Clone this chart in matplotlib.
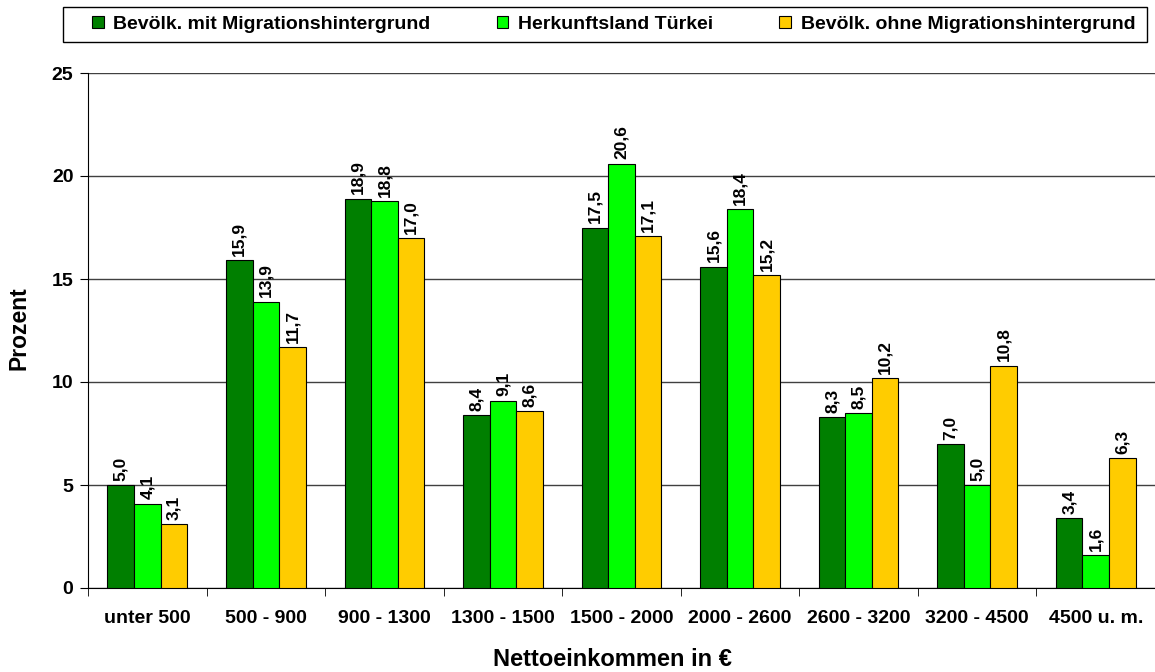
import matplotlib
matplotlib.use("Agg")
import matplotlib.pyplot as plt
import numpy as np
from matplotlib.patches import Patch, Rectangle

plt.rcParams['font.family'] = ['Liberation Sans', 'DejaVu Sans']
plt.rcParams['font.weight'] = 'bold'

categories = ["unter 500", "500 - 900", "900 - 1300", "1300 - 1500", "1500 - 2000",
              "2000 - 2600", "2600 - 3200", "3200 - 4500", "4500 u. m."]
series_names = ["Bevölk. mit Migrationshintergrund", "Herkunftsland Türkei",
                "Bevölk. ohne Migrationshintergrund"]
mit_migration = [5.0, 15.9, 18.9, 8.4, 17.5, 15.6, 8.3, 7.0, 3.4]
tuerkei = [4.1, 13.9, 18.8, 9.1, 20.6, 18.4, 8.5, 5.0, 1.6]
ohne_migration = [3.1, 11.7, 17.0, 8.6, 17.1, 15.2, 10.2, 10.8, 6.3]
colors = ["#007F00", "#00FF00", "#FFCC00"]

W, H = 1155, 672
fig = plt.figure(figsize=(W / 100, H / 100), dpi=100)
ax = fig.add_axes([88 / W, 1 - 588 / H, (1155 - 88) / W, (588 - 73) / H])

x = np.arange(len(categories))
w = 0.224
for i, (vals, c) in enumerate(zip([mit_migration, tuerkei, ohne_migration], colors)):
    pos = x + (i - 1) * w
    ax.bar(pos, vals, width=w, color=c, edgecolor="black", linewidth=0.8, zorder=3)
    for p, v in zip(pos, vals):
        ax.annotate(f"{v:.1f}".replace(".", ","), (p, v), xytext=(0, 3),
                    textcoords="offset points", rotation=90, ha="center", va="bottom",
                    fontsize=12.5, fontweight="bold", zorder=4)

ax.set_xlim(-0.5, len(categories) - 0.5)
ax.set_ylim(0, 25)
ax.set_yticks([0, 5, 10, 15, 20, 25])
ax.yaxis.grid(True, color="#404040", linewidth=1.0, zorder=0)
ax.set_xticks(x)
ax.set_xticklabels(categories, fontsize=14, fontweight="bold")
ax.set_xticks(np.arange(-0.5, len(categories), 1), minor=True)
ax.tick_params(axis="x", which="major", length=0, pad=16)
ax.tick_params(axis="x", which="minor", length=6, direction="out", color="black")
ax.tick_params(axis="y", length=5.5, direction="out", labelsize=14, color="black", pad=5)
for lab in ax.get_yticklabels():
    lab.set_fontweight("bold")
ax.spines["top"].set_visible(False)
ax.spines["right"].set_visible(False)
ax.spines["left"].set_color("black")
ax.spines["bottom"].set_color("black")

fig.text(19 / W, 1 - 328 / H, "Prozent", rotation=90, ha="center", va="center",
         fontsize=16.5, fontweight="bold")
fig.text(612 / W, 1 - 659 / H, "Nettoeinkommen in €", ha="center", va="center",
         fontsize=17, fontweight="bold")

# legend frame
fig.patches.append(Rectangle((63 / W, 1 - 42 / H), (1147 - 63) / W, 35 / H,
                             transform=fig.transFigure, facecolor="white",
                             edgecolor="black", linewidth=1.0, zorder=1))
handles = [Patch(facecolor=c, edgecolor="black", linewidth=0.8) for c in colors]
leg = fig.legend(handles, series_names, loc="center left", bbox_to_anchor=(92 / W, 1 - 24.5 / H),
                 ncol=3, frameon=False, prop={"weight": "bold", "size": 14},
                 handlelength=0.6, handleheight=0.6, columnspacing=3.4,
                 handletextpad=0.5, borderpad=0, borderaxespad=0)
leg.set_zorder(2)

fig.savefig("out.png", dpi=100)
